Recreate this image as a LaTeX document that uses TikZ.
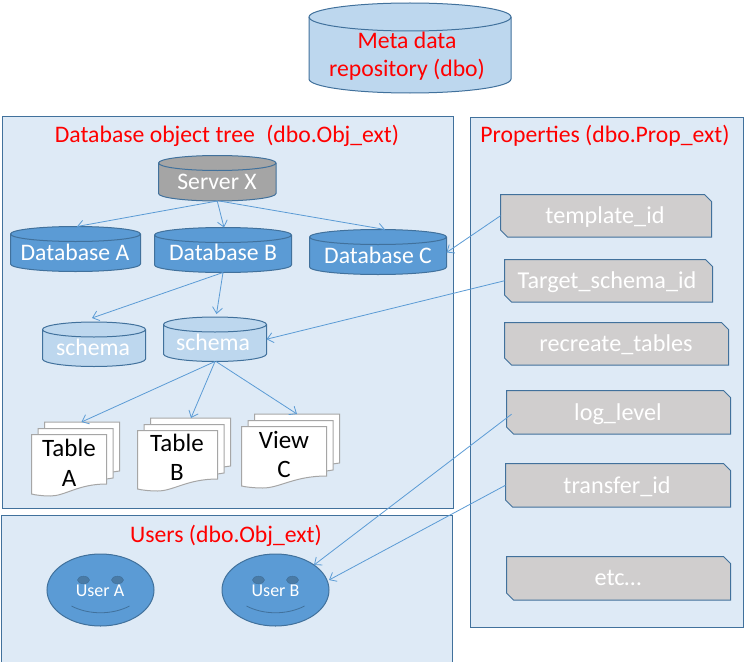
\documentclass[tikz,border=0pt]{standalone}
\usepackage{fontspec}
\setmainfont{Carlito}
\usetikzlibrary{arrows.meta}
\definecolor{edgeblue}{HTML}{41719C}
\definecolor{panelfill}{HTML}{DEEAF6}
\definecolor{lightblue}{HTML}{BDD7EE}
\definecolor{midblue}{HTML}{5B9BD5}
\definecolor{servergrey}{HTML}{A5A5A5}
\definecolor{propgrey}{HTML}{D0CECE}
\definecolor{eyeblue}{HTML}{4A7BA6}
\newcommand{\fsz}[1]{\fontsize{#1}{#1}\selectfont}
\tikzset{
  panel/.style={draw=edgeblue,fill=panelfill,line width=1pt},
  shapeline/.style={draw=edgeblue,line width=1pt},
  pagebox/.style={draw=black!35,fill=white,line width=1pt},
  anchorbox/.style={inner sep=0pt,outer sep=0pt,draw=none},
  fixedline/.style={text height=15pt,text depth=0pt},
  title/.style={text=red,inner sep=0pt,font=\fsz{23.7},fixedline},
  whitetext/.style={text=white,inner sep=0pt,font=\fsz{23.7},fixedline},
  proptext/.style={text=white,inner sep=0pt,font=\fsz{24.2},fixedline},
  blacktext/.style={text=black,inner sep=0pt,font=\fsz{25},fixedline},
  usertext/.style={text=white,inner sep=0pt,font=\fsz{18},text height=12pt,text depth=0pt},
  conn/.style={draw=midblue,line width=0.8pt,-{Straight Barb[length=6pt,width=10pt,line width=0.8pt]}},
}
% name x1 y1 x2 y2 ry fill
\newcommand{\cyl}[7]{
  \pgfmathsetmacro\cylc{(#2+#4)/2}
  \pgfmathsetmacro\cylw{0.5523*(#4-#2)/2}
  \pgfmathsetmacro\cylk{0.5523*#6}
  \path[shapeline,fill=#7] (#2,{#3+#6}) -- (#2,{#5-#6})
    .. controls (#2,{#5-#6+\cylk}) and ({\cylc-\cylw},#5) .. (\cylc,#5)
    .. controls ({\cylc+\cylw},#5) and (#4,{#5-#6+\cylk}) .. (#4,{#5-#6})
    -- (#4,{#3+#6})
    .. controls (#4,{#3+#6-\cylk}) and ({\cylc+\cylw},#3) .. (\cylc,#3)
    .. controls ({\cylc-\cylw},#3) and (#2,{#3+#6-\cylk}) .. (#2,{#3+#6}) -- cycle;
  \path[shapeline] (#2,{#3+#6})
    .. controls (#2,{#3+#6+\cylk}) and ({\cylc-\cylw},{#3+2*#6}) .. (\cylc,{#3+2*#6})
    .. controls ({\cylc+\cylw},{#3+2*#6}) and (#4,{#3+#6+\cylk}) .. (#4,{#3+#6});
  \node[anchorbox,minimum width={(#4-#2)*1pt},minimum height={(#5-#3)*1pt}] (#1) at (\cylc,{(#3+#5)/2}) {};
}
% name x1 y1 x2 y2 (snipped rectangle)
\newcommand{\snip}[5]{
  \path[shapeline,fill=propgrey] (#2,#3) -- ({#4-7},#3) -- (#4,{#3+7}) -- (#4,#5)
    -- ({#2+7},#5) -- (#2,{#5-7}) -- cycle;
  \node[anchorbox,minimum width={(#4-#2)*1pt},minimum height={(#5-#3)*1pt}] (#1) at ({(#2+#4)/2},{(#3+#5)/2}) {};
}
% one page: x1 y1 x2 yright yleft
\newcommand{\wavepage}[5]{
  \path[pagebox] (#1,#2) -- (#3,#2) -- (#3,#4)
    .. controls ({#1+0.62*(#3-#1)},{#4}) and ({#1+0.45*(#3-#1)},{#5+2}) .. ({#1+0.25*(#3-#1)},{#5+2})
    .. controls ({#1+0.15*(#3-#1)},{#5+2}) and ({#1+0.05*(#3-#1)},{#5+1}) .. (#1,#5) -- cycle;
}
% name x1 y1 x2 yright yleft
\newcommand{\docstack}[6]{
  \path[pagebox] ({#2+13},{#3-12.5}) -- ({#4+13},{#3-12.5}) -- ({#4+13},{#5-13}) -- ({#4+6},{#5-12}) -- ({#2+13},{#5-12}) -- cycle;
  \path[pagebox] ({#2+6.5},{#3-6}) -- ({#4+6.5},{#3-6}) -- ({#4+6.5},{#5-6}) -- ({#4},{#5-5}) -- ({#2+6.5},{#5-5}) -- cycle;
  \wavepage{#2}{#3}{#4}{#5}{#6}
  \node[anchorbox,minimum width={(#4+13-#2)*1pt},minimum height={(#6+2-#3+12.5)*1pt}] (#1) at ({(#2+#4+13)/2},{(#3-12.5+#6+2)/2}) {};
}
% name cx
\newcommand{\userface}[2]{
  \path[shapeline,fill=midblue] (#2,590) ellipse[x radius=53.5,y radius=36];
  \path[draw=edgeblue,fill=eyeblue,line width=0.5pt] ({#2-17},580) ellipse[x radius=6,y radius=3.8];
  \path[draw=edgeblue,fill=eyeblue,line width=0.5pt] ({#2+17},580) ellipse[x radius=6,y radius=3.8];
  \path[draw=edgeblue,line width=0.8pt] ({#2-29},606) .. controls ({#2-12},615) and ({#2+12},615) .. ({#2+29},606);
  \node[anchorbox,minimum width=107pt,minimum height=72pt] (#1) at (#2,590) {};
}
\begin{document}
\begin{tikzpicture}[x=1pt,y=-1pt]
\useasboundingbox (0,0) rectangle (749,661);
\path[fill=white] (0,0) rectangle (749,661);
% panels
\path[panel] (2.5,116) rectangle (453.5,508);
\path[panel] (1.5,515.5) rectangle (452.5,672);
\path[panel] (470,117.5) rectangle (743,627);
\node[title] (treetitle) at (227,135) {Database object tree\hspace{0.25em} (dbo.Obj\_ext)};
\node[title] (usertitle) at (226,535) {Users (dbo.Obj\_ext)};
\node[title] (proptitle) at (605,135) {Properties (dbo.Prop\_ext)};
% repository
\cyl{repo}{309}{3}{511}{93}{14}{lightblue}
\node[title] (repotext1) at (407,41) {Meta data};
\node[title] (repotext2) at (407,69) {repository (dbo)};
% tree
\cyl{srv}{158.5}{155.5}{276}{201}{7.5}{servergrey}
\node[whitetext] (srvtext) at (217,182) {Server X};
\cyl{dba}{10.5}{226.5}{140.5}{271.5}{7.5}{midblue}
\node[whitetext] (dbatext) at (75,253) {Database A};
\cyl{dbb}{154.5}{227.5}{291.5}{272.5}{7.5}{midblue}
\node[whitetext] (dbbtext) at (223,253) {Database B};
\cyl{dbc}{309.5}{229.5}{446.5}{274.5}{7.5}{midblue}
\node[whitetext] (dbctext) at (378,256) {Database C};
\cyl{scha}{42.5}{322}{145.5}{366.5}{7.5}{lightblue}
\node[whitetext] (schatext) at (93,348) {schema};
\cyl{schb}{163.5}{317}{266.5}{361.5}{7.5}{lightblue}
\node[whitetext] (schbtext) at (213,343) {schema};
% documents
\docstack{taba}{31.5}{434.5}{106.5}{484}{494}
\node[blacktext] (tabatext1) at (69,449) {Table};
\node[blacktext] (tabatext2) at (69,479) {A};
\docstack{tabb}{137.5}{430.5}{217.5}{479}{489}
\node[blacktext] (tabbtext1) at (177,444) {Table};
\node[blacktext] (tabbtext2) at (177,473) {B};
\docstack{viewc}{241.5}{426.5}{326.5}{476}{486}
\node[blacktext] (viewtext1) at (284,441) {View};
\node[blacktext] (viewtext2) at (284,470) {C};
% users
\userface{usera}{100.5}
\node[usertext] (useratext) at (100,590) {User A};
\userface{userb}{275.5}
\node[usertext] (userbtext) at (275.5,590) {User B};
% properties
\snip{ptemplate}{500.5}{194.5}{711.5}{237}
\node[proptext] (ptemplatetext) at (605,216) {template\_id};
\snip{ptarget}{504.5}{259.5}{712.5}{302}
\node[proptext] (ptargettext) at (607,281) {Target\_schema\_id};
\snip{precreate}{504.5}{322.5}{728.5}{365}
\node[proptext] (precreatetext) at (616,344) {recreate\_tables};
\snip{plog}{506.5}{390.5}{730.5}{434}
\node[proptext] (plogtext) at (618,413) {log\_level};
\snip{ptransfer}{505.5}{463.5}{730.5}{507}
\node[proptext] (ptransfertext) at (617,486) {transfer\_id};
\snip{petc}{506.5}{556.5}{730.5}{600}
\node[proptext] (petctext) at (618,578) {etc…};
% connectors
\path[conn] (srv.south) -- ([xshift=1.5pt]dba.north);
\path[conn] (srv.south) -- ([xshift=1pt]dbb.north);
\path[conn] ([xshift=2pt]srv.south) -- ([xshift=7pt]dbc.north);
\path[conn] (ptemplate.west) -- ([yshift=-0.5pt]dbc.east);
\path[conn] (ptarget.west) -- ([yshift=0pt]schb.east);
\path[conn] (dbb.south) -- ([xshift=-2pt,yshift=4pt]scha.north);
\path[conn] (dbb.south) -- ([xshift=1.5pt,yshift=3pt]schb.north);
\path[conn] (schb.south) -- ([xshift=6pt]taba.north);
\path[conn] (schb.south) -- ([xshift=7pt]tabb.north);
\path[conn] ([xshift=1pt]schb.south) -- ([xshift=6.5pt]viewc.north);
\path[conn] ([xshift=5pt,yshift=-2pt]plog.west) -- ([xshift=38.5pt,yshift=-11pt]userb.north);
\path[conn] (ptransfer.west) -- ([yshift=10pt]userb.east);
\end{tikzpicture}
\end{document}
